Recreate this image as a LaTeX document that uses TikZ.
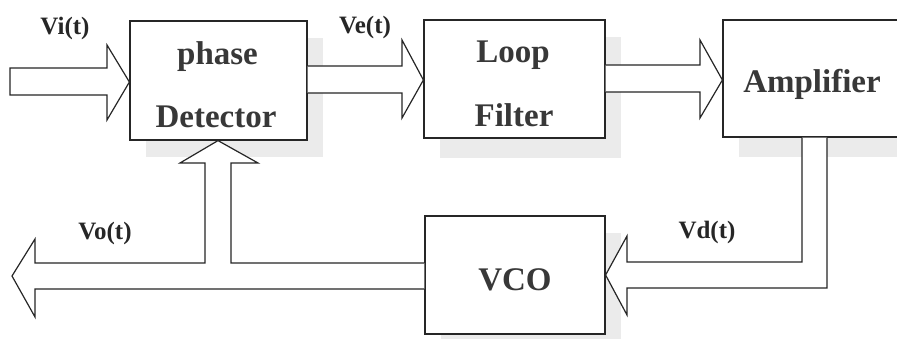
\documentclass[tikz,border=0pt]{standalone}
\usepackage{fontspec}
\setmainfont{Liberation Serif}
\usetikzlibrary{calc}
\begin{document}
\begin{tikzpicture}[x=1pt,y=-1pt,
  blockbox/.style={draw=black!85, line width=1.2pt, fill=white, inner sep=0pt},
  shadowbox/.style={fill=black!8, draw=none},
  fatarrow/.style={draw=black!85, line width=1.2pt, fill=white, line join=miter},
  boxtext/.style={anchor=base, inner sep=0pt, text=black!78, font=\fontsize{33}{40}\selectfont\bfseries},
  sigtext/.style={anchor=base, inner sep=0pt, text=black!85, font=\fontsize{25}{30}\selectfont\bfseries}]
\useasboundingbox (0,0) rectangle (897,339);
\fill[white] (-5,-5) rectangle (1000,350);
% shadows
\fill[shadowbox] (146,38) rectangle (323,157);
\fill[shadowbox] (440,37) rectangle (621,158);
\fill[shadowbox] (739,37) rectangle (990,157);
\fill[shadowbox] (441,233) rectangle (621,345);
% blocks
\node[blockbox, minimum width=257pt, minimum height=117pt] (amp) at (851.5,78.5) {};
\node[blockbox, minimum width=177pt, minimum height=119pt] (pd)  at (218.5,80.5) {};
\node[blockbox, minimum width=181pt, minimum height=118pt] (lf)  at (514.5,79) {};
\node[blockbox, minimum width=180pt, minimum height=118pt] (vco) at (515,275) {};
% fat arrows
\coordinate (vin) at (10,82);
\draw[fatarrow] (vin |- 0,68) -- (107,68) -- (107,45) -- (pd.west |- 0,82) -- (107,120) -- (107,95) -- (vin |- 0,95) -- cycle;
\draw[fatarrow] (pd.east |- 0,66) -- (402,66) -- (402,40) -- (lf.west |- 0,80) -- (402,118) -- (402,93) -- (pd.east |- 0,93);
\draw[fatarrow] (lf.east |- 0,65) -- (700,65) -- (700,40) -- (amp.west |- 0,80) -- (700,118) -- (700,92) -- (lf.east |- 0,92);
\draw[fatarrow] (802,0 |- amp.south) -- (802,262) -- (627,262) -- (627,236) -- (vco.east |- 0,275) -- (627,315) -- (627,288) -- (827,288) -- (827,0 |- amp.south);
\coordinate (vout) at (12,276);
\draw[fatarrow] (vco.west |- 0,263) -- (231,263) -- (231,163) -- (258,163) -- (218,0 |- pd.south) -- (180,163) -- (205,163) -- (205,263) -- (35,263) -- (35,239) -- (vout) -- (35,317) -- (35,289) -- (vco.west |- 0,289);
% block texts
\node[boxtext] (pd1) at (217.5,65) {phase};
\node[boxtext] (pd2) at (216,128) {Detector};
\node[boxtext] (lf1) at (513,63) {Loop};
\node[boxtext] (lf2) at (514,127) {Filter};
\node[boxtext] (amp1) at (812,93) {Amplifier};
\node[boxtext] (vco1) at (515,290) {VCO};
% signal labels
\node[sigtext] (vi) at (65,35) {Vi(t)};
\node[sigtext] (ve) at (365,34) {Ve(t)};
\node[sigtext] (vo) at (105,240) {Vo(t)};
\node[sigtext] (vd) at (707,239) {Vd(t)};
\end{tikzpicture}
\end{document}
